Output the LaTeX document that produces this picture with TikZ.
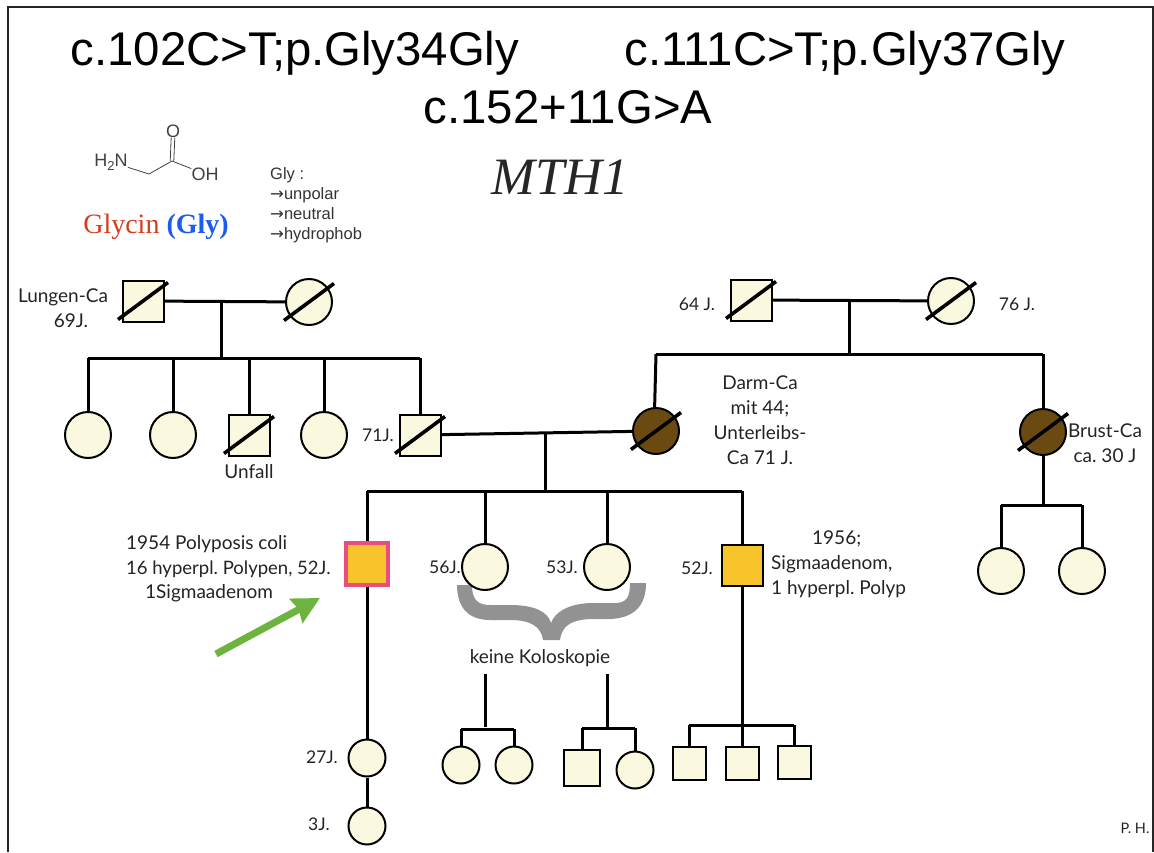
\documentclass[tikz,border=0pt]{standalone}
\usepackage{fontspec}
\usepackage{tikz}
\usetikzlibrary{arrows.meta, positioning}
\setmainfont{Lato}
\newfontfamily\helv{Liberation Sans}
\newfontfamily\tms{Liberation Serif}
\newfontfamily\djv{DejaVu Sans}
\newcommand{\pfeil}{{\djv→}}
\definecolor{cCream}{RGB}{250,248,222}
\definecolor{cBrown}{RGB}{107,74,18}
\definecolor{cYellow}{RGB}{247,197,43}
\definecolor{cPink}{RGB}{234,76,124}
\definecolor{cBrace}{RGB}{146,146,146}
\definecolor{cGreen}{RGB}{109,179,63}
\definecolor{cRed}{RGB}{214,59,30}
\definecolor{cBlue}{RGB}{26,92,240}
\definecolor{cText}{RGB}{35,35,35}

\begin{document}
\frenchspacing
\begin{tikzpicture}[x=1pt, y=-1pt,
      ped/.style={line width=3pt},
      female/.style={circle, draw, line width=2pt, fill=cCream, inner sep=0pt, minimum size=46pt},
      small/.style={female, minimum size=37pt},
      male/.style={draw, line width=2pt, fill=cCream, inner sep=0pt, minimum size=41pt},
      smallmale/.style={male, minimum size=33pt},
      dead/.style={append after command={([shift={(-25,18.5)}]\tikzlastnode.center)
                   edge[line width=3.6pt] ([shift={(25,-18.5)}]\tikzlastnode.center)}},
      ill/.style={fill=cBrown},
      adenom/.style={fill=cYellow},
      lbl/.style={text=cText, inner sep=0pt, align=center, font=\fontsize{19}{24.8}\selectfont},
      age/.style={lbl, font=\fontsize{17.5}{24.8}\selectfont},
      title/.style={inner sep=0pt, font=\helv\fontsize{47.3}{47.3}\selectfont},
      chem/.style={inner sep=0pt, text=black!75, font=\helv\fontsize{18}{18}\selectfont},
      >={Stealth[length=27pt, width=27pt, inset=3pt]}]
    \useasboundingbox (0,0) rectangle (1154,852);
    \coordinate (fbl) at (8,852);
    \coordinate (ftl) at (8,7);
    \coordinate (ftr) at (1153,7);
    \coordinate (fbr) at (1153,852);
    \draw[line width=2pt, black!85] (fbl)--(ftl)--(ftr)--(fbr);

    \node[title] (t1) at (295,53) {c.102C>T;p.Gly34Gly};
    \node[title] (t2) at (845,53) {c.111C>T;p.Gly37Gly};
    \node[title] (t3) at (568,107) {c.152+11G>A};
    \node[inner sep=0pt, font=\tms\itshape\fontsize{52.5}{52.5}\selectfont, text=black!85] (gene) at (560,177) {MTH1};

    \node[chem] (nh) at (111,162) {H\raisebox{-4pt}{\fontsize{13}{13}\selectfont 2}N};
    \coordinate (ca) at (149,174);
    \coordinate (cc) at (172,161);
    \node[chem] (ox) at (173,131) {O};
    \node[chem] (oh) at (205,174) {OH};
    \draw[black!75, line width=.8pt] (nh)--(ca)--(cc)--(oh);
    \draw[black!75, line width=.8pt] ([xshift=-1.8pt]cc)--([xshift=-1.8pt]ox.south);
    \draw[black!75, line width=.8pt] ([xshift=1.8pt]cc)--([xshift=1.8pt]ox.south);
    \node[inner sep=0pt, font=\tms\fontsize{28}{28}\selectfont] (gly) at (156,227)
      {\textcolor{cRed}{Glycin} \textcolor{cBlue}{\bfseries(Gly)}};
    \node[inner sep=0pt, align=left, text=black!80, font=\helv\fontsize{16.5}{20}\selectfont, anchor=north west] (props) at (270,167)
      {Gly :\\\pfeil unpolar\\\pfeil neutral\\\pfeil hydrophob};

    \fill[cBrace] (457,585) -- (472,585) .. controls (472,600) and (478,605) .. (490,605) -- (510,605)
      .. controls (535,605) and (548,612) .. (551,623) .. controls (555,612) and (568,604) .. (590,603)
      -- (615,603) .. controls (626,603) and (630,598) .. (630,583) -- (646,583)
      .. controls (646,605) and (635,618) .. (610,619) -- (590,619) .. controls (572,620) and (562,625) .. (560,640)
      -- (543,640) .. controls (541,626) and (530,620) .. (510,620) -- (490,620)
      .. controls (468,620) and (457,607) .. (457,585) -- cycle;

    \coordinate (j1) at (221,300);
    \coordinate (j1b) at (221,358);
    \coordinate (j2) at (849,300);
    \coordinate (j2b) at (849,354);
    \coordinate (j3) at (545,433);
    \coordinate (j3b) at (545,491);
    \coordinate (j5) at (485,727);
    \coordinate (j6) at (607,728);
    \coordinate (k1) at (485,674);
    \coordinate (k2) at (607,674);
    \coordinate (arrA) at (216,654);
    \coordinate (arrB) at (320,598);

    \draw[ped] (88,358)--(420,358);
    \draw[ped] (656,354)--(1043,354);
    \draw[ped] (367,491)--(742,491);
    \draw[ped] (1001,505)--(1082,505);
    \draw[ped] (461,729)--(514,729);
    \draw[ped] (582,728)--(635,728);
    \draw[ped] (689,725)--(794,725);

    \draw[ped] (j1)--(j1b);
    \draw[ped] (j2)--(j2b);
    \draw[ped] (j3)--(j3b);
    \draw[ped] (k1)--(j5);
    \draw[ped] (k2)--(j6);
    \draw[ped] (88,358)--(88,435);
    \draw[ped] (173,358)--(173,435);
    \draw[ped] (249,358)--(249,435);
    \draw[ped] (324,358)--(324,435);
    \draw[ped] (420,358)--(420,435);
    \draw[ped] (656,354)--(654,431);
    \draw[ped] (1043,354)--(1043,505);
    \draw[ped] (1001,505)--(1001,571);
    \draw[ped] (1082,505)--(1082,571);
    \draw[ped] (367,491)--(367,564);
    \draw[ped] (485,491)--(485,567);
    \draw[ped] (607,491)--(607,567);
    \draw[ped] (742,491)--(742,763);
    \draw[ped] (461,729)--(461,765);
    \draw[ped] (514,729)--(514,765);
    \draw[ped] (582,728)--(582,768);
    \draw[ped] (635,728)--(635,770);
    \draw[ped] (689,725)--(689,763);
    \draw[ped] (794,725)--(794,762);

    \node[male, dead] (gpa1) at (143,301) {};
    \node[female, dead] (gma1) at (309,302) {};
    \node[male, dead] (gpa2) at (751,300) {};
    \node[female, dead] (gma2) at (951,301) {};
    \draw[ped] (gpa1)--(gma1);
    \draw[ped] (gpa2)--(gma2);

    \node[female] (s1) at (88,435) {};
    \node[female] (s2) at (173,435) {};
    \node[male, dead] (s3) at (249,435) {};
    \node[female] (s4) at (324,435) {};
    \node[male, dead] (vater) at (420,435) {};
    \node[female, ill, dead] (mutter) at (656,431) {};
    \node[female, ill, dead] (tante) at (1043,432) {};
    \draw[ped] (vater)--(mutter);

    \node[female] (c1) at (1001,571) {};
    \node[female] (c2) at (1082,571) {};

    \node[male, adenom, draw=cPink, line width=4.5pt, minimum size=42pt] (index) at (367,564) {};
    \node[female] (k56) at (485,567) {};
    \node[female] (k53) at (607,567) {};
    \node[male, adenom] (k52) at (742,565) {};

    \node[small] (e27) at (367,758) {};
    \node[small] (e3) at (367,826) {};
    \draw[ped] (index)--(e27);
    \draw[ped] (e27)--(e3);

    \node[small] (e1) at (461,765) {};
    \node[small] (e2) at (514,765) {};
    \node[male, minimum size=36pt] (e4) at (582,768) {};
    \node[small] (e5) at (635,770) {};
    \node[smallmale] (e6) at (689,763) {};
    \node[smallmale] (e7) at (742,763) {};
    \node[smallmale] (e8) at (794,762) {};

    \draw[->, line width=7pt, cGreen] (arrA)--(arrB);

    \node[lbl] (l1) at (63,308) {Lungen-Ca\\\hspace*{16pt}69J.};
    \node[age] (l2) at (697,304) {64 J.};
    \node[age] (l3) at (1017,304) {76 J.};
    \node[lbl] (l4) at (249,472) {Unfall};
    \node[age] (l5) at (378,435) {71J.};
    \node[lbl] (l6) at (760,420) {Darm-Ca\\mit 44;\\Unterleibs-\\Ca 71 J.};
    \node[lbl] (l7) at (1105,443) {Brust-Ca\\ca. 30 J};
    \node[lbl, align=left, anchor=north west] (l8) at (126,535) {1954 Polyposis coli\\{\fontsize{18.5}{24.8}\selectfont 16 hyperpl. Polypen, 52J.}\\\hspace*{19pt}1Sigmaadenom};
    \node[age] (l9) at (445,567) {56J.};
    \node[age] (l10) at (562,567) {53J.};
    \node[age] (l11) at (697,568) {52J.};
    \node[lbl, align=left, anchor=north west] (l12) at (771,531) {\hspace*{41pt}1956;\\Sigmaadenom,\\1 hyperpl. Polyp};
    \node[lbl] (kk) at (540,658) {keine Koloskopie};
    \node[age] (l13) at (322,757) {27J.};
    \node[age] (l14) at (319,824) {3J.};
    \node[lbl, font=\fontsize{14.5}{15}\selectfont] (ph) at (1135,828) {P. H.};
  \end{tikzpicture}
\end{document}
